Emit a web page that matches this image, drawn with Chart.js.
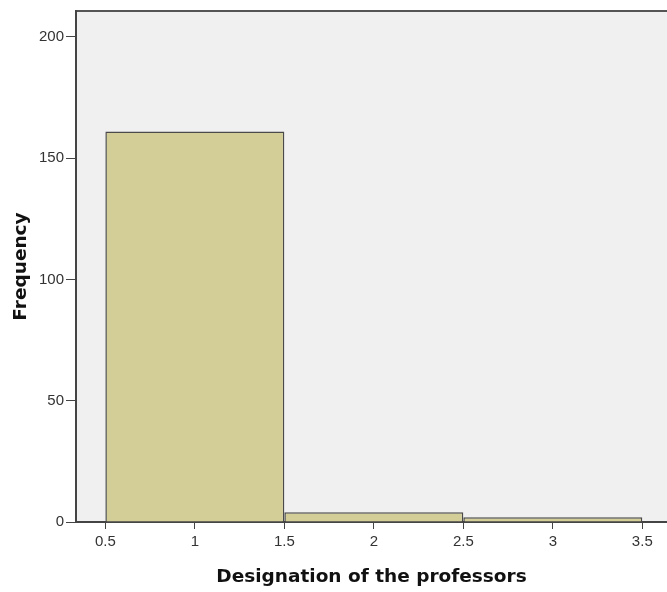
<!DOCTYPE html>
<html>
<head>
<meta charset="utf-8">
<script src="https://cdn.jsdelivr.net/npm/chart.js@4/dist/chart.umd.min.js"></script>
<style>
  body { margin: 0; background: #fff; overflow: hidden; }
  #wrap { width: 667px; height: 592px; }
</style>
</head>
<body>
<div id="wrap"><canvas id="histChart" width="667" height="592"></canvas></div>
<script>
// -------- Data --------
const binCenters = [1, 2, 3];
const frequencies = [161, 4, 2];
const xTickValues = [0.5, 1, 1.5, 2, 2.5, 3, 3.5];
const yTickValues = [0, 50, 100, 150, 200];
const xTitle = 'Designation of the professors';
const yTitle = 'Frequency';

// grey plot background + top border
const plotBackground = {
  id: 'plotBackground',
  beforeDraw(chart) {
    const { ctx, chartArea: a } = chart;
    ctx.save();
    ctx.fillStyle = '#f0f0f0';
    ctx.fillRect(a.left, a.top, a.right - a.left, a.bottom - a.top);
    ctx.strokeStyle = '#555';
    ctx.lineWidth = 2;
    ctx.beginPath();
    ctx.moveTo(a.left, a.top);
    ctx.lineTo(a.right, a.top);
    ctx.stroke();
    ctx.restore();
  }
};

const tickFont = { family: '"Liberation Sans", Arial, sans-serif', size: 15 };
const titleFont = { family: '"DejaVu Sans", Verdana, sans-serif', size: 18.5, weight: 'bold' };

const ctx = document.getElementById('histChart').getContext('2d');
const chart = new Chart(ctx, {
  type: 'bar',
  data: {
    datasets: [{
      label: yTitle,
      data: binCenters.map((x, i) => ({ x: x, y: frequencies[i] })),
      backgroundColor: '#d3ce97',
      borderColor: '#4a4a4a',
      borderWidth: 1.5,
      // ticks are half a bin apart, so 2 x tick spacing = one full bin
      barPercentage: 2,
      categoryPercentage: 1
    }]
  },
  options: {
    responsive: false,
    animation: false,
    layout: { padding: { top: 9, left: 0, right: 0, bottom: 0 } },
    plugins: {
      legend: { display: false },
      tooltip: { enabled: false }
    },
    scales: {
      x: {
        type: 'linear',
        offset: false,
        min: 0.336,
        max: 3.638,
        afterBuildTicks: s => { s.ticks = xTickValues.map(v => ({ value: v })); },
        afterFit: s => { s.height = 70; },
        ticks: {
          color: '#333',
          font: tickFont,
          padding: 4,
          maxRotation: 0,
          callback: v => String(v)
        },
        grid: { offset: false, drawOnChartArea: false, drawTicks: true, tickLength: 7, color: '#444' },
        border: { color: '#444', width: 2 },
        title: { display: true, text: xTitle, color: '#111', font: titleFont, padding: { bottom: 4 } }
      },
      y: {
        min: 0,
        max: 210.7,
        afterBuildTicks: s => { s.ticks = yTickValues.map(v => ({ value: v })); },
        afterFit: s => { s.width = 76; },
        ticks: { color: '#333', font: tickFont, padding: 2 },
        grid: { drawOnChartArea: false, drawTicks: true, tickLength: 10, color: '#444' },
        border: { color: '#444', width: 2 },
        title: { display: true, text: yTitle, color: '#111', font: titleFont, padding: { top: 10 } }
      }
    }
  },
  plugins: [plotBackground]
});
</script>
</body>
</html>
